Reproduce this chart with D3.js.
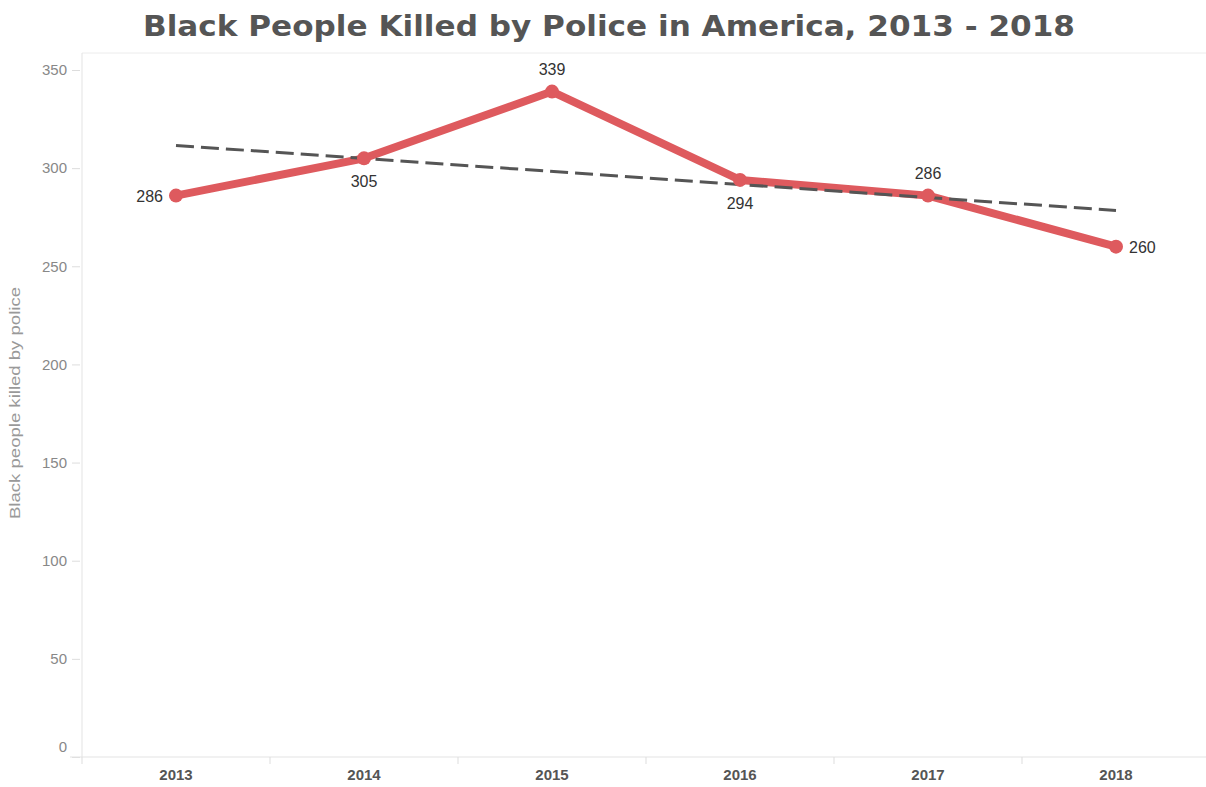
<!DOCTYPE html>
<html>
<head>
<meta charset="utf-8">
<script src="https://cdn.jsdelivr.net/npm/d3@7"></script>
<style>
  body { margin: 0; background: #fff; }
  svg { display: block; }
</style>
</head>
<body>
<div id="chart"></div>
<script>
const years = ["2013", "2014", "2015", "2016", "2017", "2018"];
const killed = [286, 305, 339, 294, 286, 260];
const yTicks = [0, 50, 100, 150, 200, 250, 300, 350];
// where each value label sits relative to its point
const labelPos = ["left", "below", "above", "below", "above", "right"];

const width = 1206, height = 787;
const plotLeft = 82, plotRight = 1210, plotTop = 53, plotBottom = 757;

const svg = d3.select("#chart").append("svg")
  .attr("width", width)
  .attr("height", height);

const x = d3.scaleBand().domain(years).range([plotLeft, plotRight]);
const y = d3.scaleLinear().domain([0, 350]).range([plotBottom, plotBottom - 687]);

// title
svg.append("text")
  .attr("x", 609)
  .attr("y", 36)
  .attr("text-anchor", "middle")
  .attr("font-family", "DejaVu Sans, Verdana, sans-serif")
  .attr("font-weight", "bold")
  .attr("font-size", 29)
  .attr("fill", "#555")
  .attr("textLength", 932)
  .attr("lengthAdjust", "spacingAndGlyphs")
  .text("Black People Killed by Police in America, 2013 - 2018");

// frame lines
svg.append("line")
  .attr("x1", plotLeft).attr("x2", width).attr("y1", plotTop).attr("y2", plotTop)
  .attr("stroke", "#ececec");

// y axis
const yAxis = svg.append("g")
  .attr("transform", `translate(${plotLeft},0)`)
  .call(d3.axisLeft(y).tickValues(yTicks).tickSize(8).tickPadding(6));
yAxis.select(".domain").attr("stroke", "#e3e3e3").attr("d", `M0,${plotTop}V${plotBottom}`);
yAxis.selectAll(".tick line").attr("stroke", "#ddd").attr("x2", -10).attr("x1", -2);
yAxis.selectAll(".tick text")
  .attr("font-family", "Arial, Liberation Sans, sans-serif")
  .attr("font-size", 15)
  .attr("fill", "#888")
  .attr("x", -15)
  .attr("dy", d => d === 0 ? "-0.4em" : "0.32em");

svg.append("text")
  .attr("transform", `translate(20,403) rotate(-90)`)
  .attr("text-anchor", "middle")
  .attr("font-family", "Arial, Liberation Sans, sans-serif")
  .attr("font-size", 14)
  .attr("fill", "#999")
  .attr("textLength", 232)
  .attr("lengthAdjust", "spacingAndGlyphs")
  .text("Black people killed by police");

// x axis
const xAxis = svg.append("g")
  .attr("transform", `translate(0,${plotBottom})`)
  .call(d3.axisBottom(x).tickSize(0).tickPadding(12));
xAxis.select(".domain").attr("stroke", "#e3e3e3").attr("d", `M70,0H${width}`);
xAxis.selectAll(".tick text")
  .attr("font-family", "Arial, Liberation Sans, sans-serif")
  .attr("font-weight", "bold")
  .attr("font-size", 15)
  .attr("fill", "#555");
xAxis.selectAll(".sep")
  .data(years)
  .enter().append("line")
  .attr("class", "sep")
  .attr("x1", d => x(d)).attr("x2", d => x(d))
  .attr("y1", 0).attr("y2", 7)
  .attr("stroke", "#ddd");

const cx = (d, i) => x(years[i]) + x.bandwidth() / 2;

// main line
const line = d3.line()
  .x((d, i) => cx(d, i))
  .y(d => y(d));

svg.append("path")
  .datum(killed)
  .attr("d", line)
  .attr("fill", "none")
  .attr("stroke", "#de5a5e")
  .attr("stroke-width", 8)
  .attr("stroke-linejoin", "round")
  .attr("stroke-linecap", "round");

// linear trend
const xs = killed.map((d, i) => i);
const mx = d3.mean(xs), my = d3.mean(killed);
const slope = d3.sum(xs, (v, i) => (v - mx) * (killed[i] - my)) / d3.sum(xs, v => (v - mx) ** 2);
const icpt = my - slope * mx;
const trend = xs.map(v => icpt + slope * v);

svg.append("line")
  .attr("x1", cx(null, 0)).attr("y1", y(trend[0]))
  .attr("x2", cx(null, 5)).attr("y2", y(trend[5]))
  .attr("stroke", "#555")
  .attr("stroke-width", 3)
  .attr("stroke-dasharray", "18,7");

// points
svg.selectAll(".pt")
  .data(killed)
  .enter().append("circle")
  .attr("class", "pt")
  .attr("cx", cx)
  .attr("cy", d => y(d))
  .attr("r", 7)
  .attr("fill", "#de5a5e");

// value labels
svg.selectAll(".lbl")
  .data(killed)
  .enter().append("text")
  .attr("class", "lbl")
  .attr("x", (d, i) => cx(d, i) + (labelPos[i] === "left" ? -13 : labelPos[i] === "right" ? 13 : 0))
  .attr("y", (d, i) => y(d) + (labelPos[i] === "above" ? -17 : labelPos[i] === "below" ? 29 : 6))
  .attr("text-anchor", (d, i) => labelPos[i] === "left" ? "end" : labelPos[i] === "right" ? "start" : "middle")
  .attr("font-family", "Arial, Liberation Sans, sans-serif")
  .attr("font-size", 16)
  .attr("fill", "#333")
  .text(d => d);
</script>
</body>
</html>
